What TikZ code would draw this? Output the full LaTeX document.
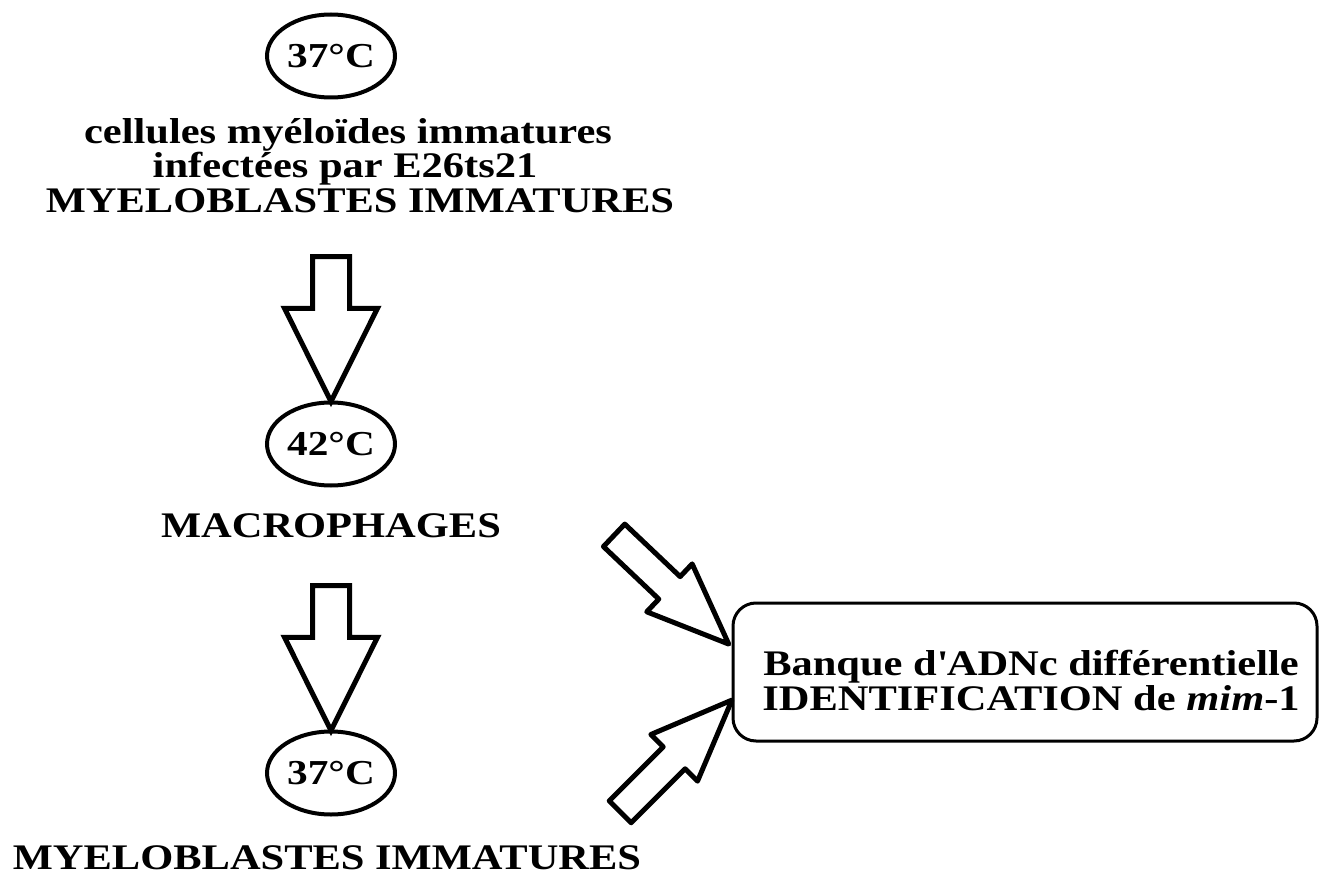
\documentclass[tikz,border=0pt]{standalone}
\usepackage{fontspec}
\setmainfont{Liberation Serif}
\newfontfamily\widefont[FakeStretch=1.18]{Liberation Serif}
\usetikzlibrary{shapes.arrows, shapes.geometric, calc}
\tikzset{
  temp/.style={draw, line width=4pt, ellipse, minimum width=128pt, minimum height=83pt,
    inner sep=0pt, font=\widefont\fontsize{35}{35}\selectfont\bfseries},
  lowtext/.style={anchor=base, inner sep=0pt,
    font=\widefont\fontsize{36}{36}\selectfont\bfseries},
  captext/.style={anchor=base, inner sep=0pt,
    font=\widefont\fontsize{36}{36}\selectfont\bfseries},
  boxtext/.style={anchor=base, inner sep=0pt,
    font=\widefont\fontsize{36}{36}\selectfont\bfseries},
  downarrow/.style={draw, line width=5pt, single arrow, rotate=-90,
    inner xsep=0pt, inner ysep=16pt, single arrow head extend=28pt,
    single arrow tip angle=53, minimum height=145pt, line join=miter},
  diagarrow/.style={draw, line width=5pt, single arrow,
    inner xsep=0pt, inner ysep=13pt, single arrow head extend=17.5pt,
    single arrow tip angle=44, minimum height=158pt, line join=round},
  resultbox/.style={draw, line width=3pt, rounded corners=23pt,
    minimum width=584pt, minimum height=138pt, inner sep=0pt},
}
\begin{document}
\begin{tikzpicture}[x=1pt, y=-1pt]
\useasboundingbox (0,0) rectangle (1323,880);

% temperature steps
\node[temp] (t37a) at (331,56)  {37°C};
\node[temp] (t42)  at (331,444) {42°C};
\node[temp] (t37b) at (331,773) {37°C};

% cell states
\node[lowtext] (cellsA) at (348,144) {cellules myéloïdes immatures};
\node[lowtext] (cellsB) at (345,178) {infectées par E26ts21};
\node[captext] (myeloA) at (360,212) {MYELOBLASTES IMMATURES};
\node[captext] (macro)  at (331,537) {MACROPHAGES};
\node[captext] (myeloB) at (327,869) {MYELOBLASTES IMMATURES};

% differential library
\node[resultbox] (bank) at (1025,672) {};
\node[boxtext] (bankA) at (1031,675) {Banque d\textquotesingle ADNc différentielle};
\node[boxtext] (bankB) at (1031,710) {IDENTIFICATION de \textit{mim}-1};

% block arrows between the steps
\coordinate (a1s) at (331,238);
\coordinate (a1e) at (331,383);
\coordinate (a2s) at (331,567);
\coordinate (a2e) at (331,712);
\node[downarrow] (arr1) at ($(a1s)!0.5!(a1e)$) {};
\node[downarrow] (arr2) at ($(a2s)!0.5!(a2e)$) {};

% block arrows towards the library
\coordinate (d1s) at (600,522);
\coordinate (d1e) at (715,631);
\coordinate (d2s) at (607,825);
\coordinate (d2e) at (718,714);
\node[diagarrow, rotate=-43.5] (darr1) at ($(d1s)!0.5!(d1e)$) {};
\node[diagarrow, rotate=45] (darr2) at ($(d2s)!0.5!(d2e)$) {};
\end{tikzpicture}
\end{document}
